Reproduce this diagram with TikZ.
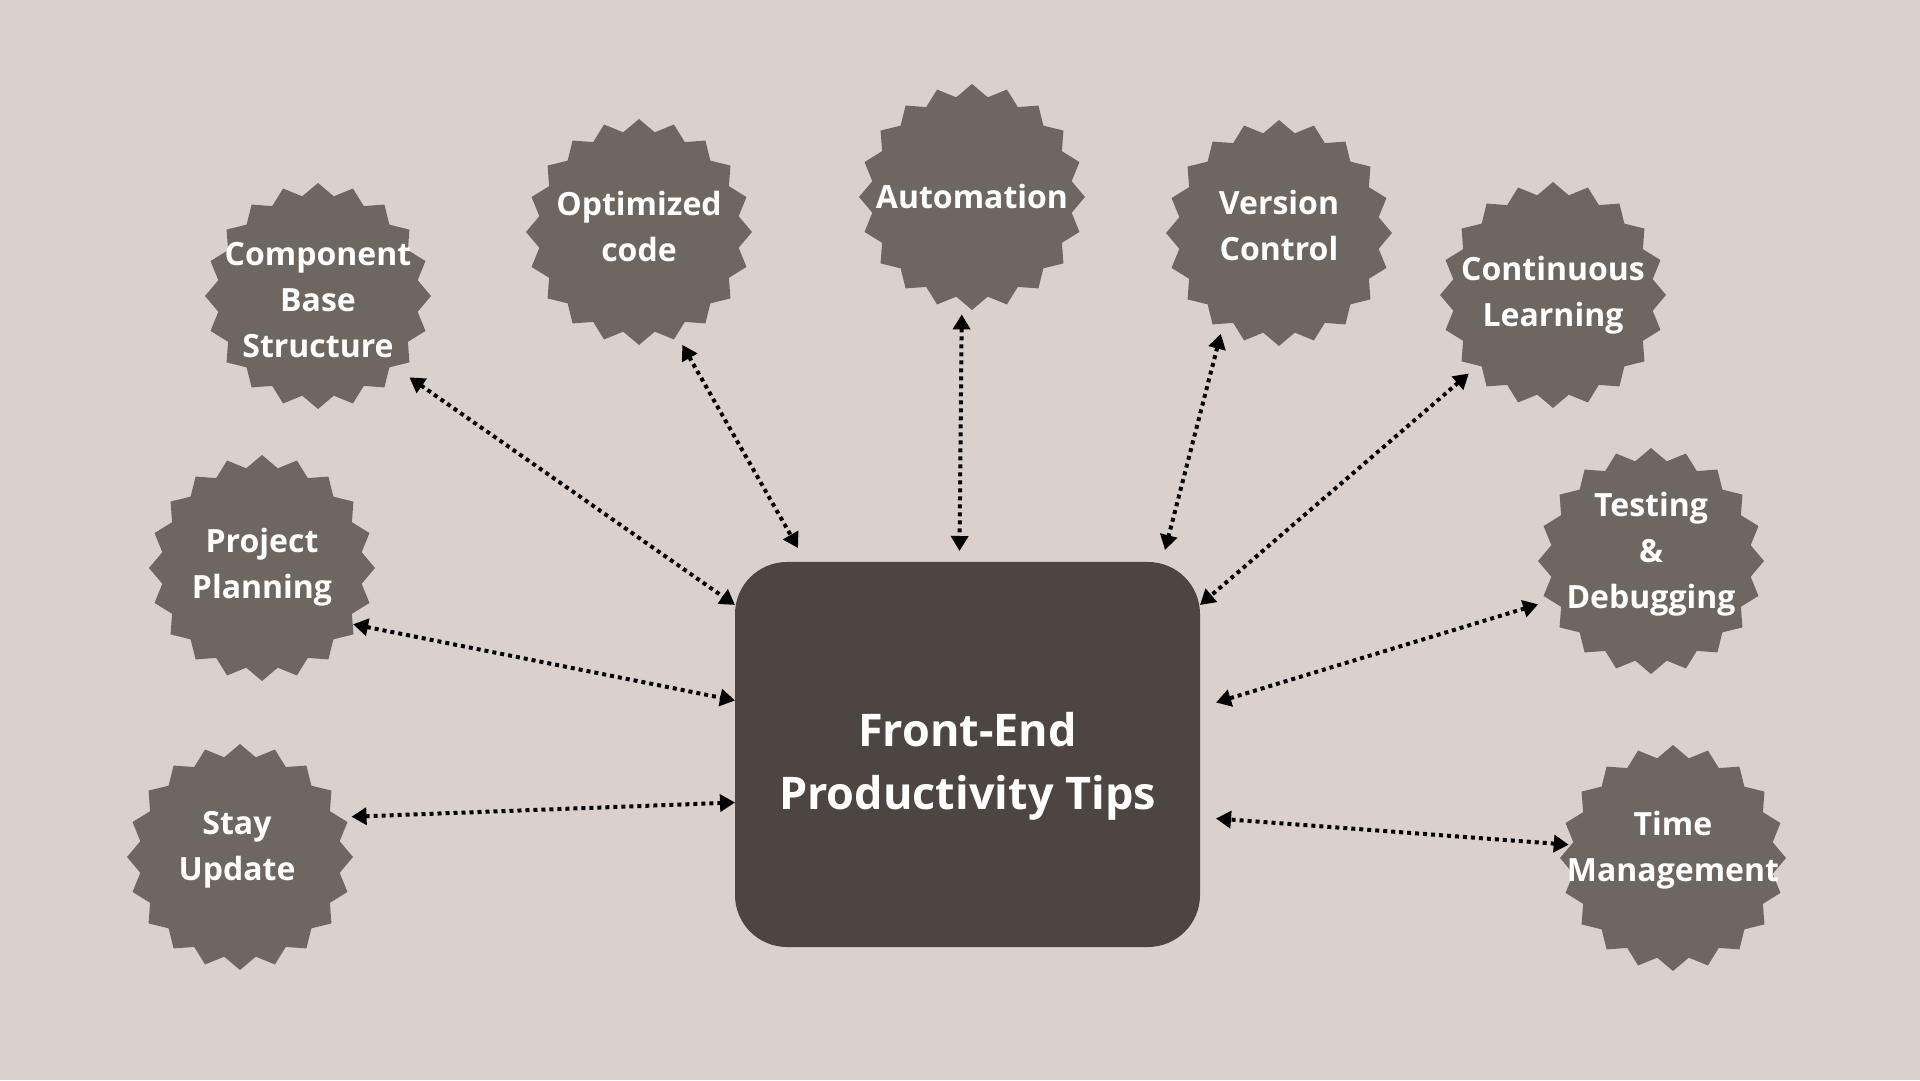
\documentclass[tikz,border=0pt]{standalone}
\usepackage{fontspec}
\setmainfont{Open Sans}
\usepackage{tikz}
\usetikzlibrary{positioning, arrows.meta, shapes.geometric, calc}
\definecolor{bgSand}{RGB}{218, 209, 204}
\definecolor{burstGrey}{RGB}{110, 102, 96}
\definecolor{hubDark}{RGB}{76, 69, 65}

\begin{document}
\begin{tikzpicture}[x=1pt, y=1pt,
        burst/.style={star, star points=20, star point ratio=1.12, minimum size=226pt,
            fill=burstGrey, draw=none, inner sep=0pt, outer sep=10pt},
        lbl/.style={text=white, align=center, font=\bfseries\fontsize{32}{46}\selectfont},
        hub/.style={rectangle, rounded corners=52pt, fill=hubDark, minimum width=465pt,
            minimum height=385pt, outer sep=0pt},
        hubtxt/.style={text=white, align=center, font=\bfseries\fontsize{45}{63}\selectfont},
        link/.style={{Triangle[length=15pt, width=17pt]}-{Triangle[length=15pt, width=17pt]},
            line width=4pt, dash pattern=on 4pt off 4pt, black}
    ]
    \fill[bgSand] (0,0) rectangle (1920,1080);
    \useasboundingbox (0,0) rectangle (1920,1080);

    \node[hub, label={[hubtxt, yshift=-12pt]center:Front-End\\Productivity Tips}] (main) at (967.5,325.5) {};

    \node[burst, label={[lbl, yshift=-4pt]center:Component\\Base\\Structure}] (comp) at (318,784) {};
    \node[burst, label={[lbl, yshift=5pt]center:Optimized\\code}] (optim) at (639,848) {};
    \node[burst, label={[lbl]center:Automation}] (auto) at (972,883) {};
    \node[burst, label={[lbl, yshift=7pt]center:Version\\Control}] (vers) at (1279,847) {};
    \node[burst, label={[lbl]center:Continuous\\Learning}] (cont) at (1553,785) {};
    \node[burst, label={[lbl, yshift=7pt]center:Testing\\\&\\Debugging}] (test) at (1651,519) {};
    \node[burst, label={[lbl, yshift=8pt]center:Time\\Management}] (time) at (1673,222) {};
    \node[burst, label={[lbl, xshift=-3pt, yshift=7pt]center:Stay\\Update}] (stay) at (240,223) {};
    \node[burst, label={[lbl, yshift=1pt]center:Project\\Planning}] (plan) at (262,512) {};

    \draw[link, shorten <=6pt] (comp.-42) -- ([yshift=-43pt]main.north west);
    \draw[link] (optim.-69) -- ([xshift=63pt, yshift=14pt]main.north west);
    \draw[link] (auto.-95) -- ([xshift=-8pt, yshift=11pt]main.north);
    \draw[link] (vers.-120) -- ([xshift=-35pt, yshift=12pt]main.north east);
    \draw[link] (cont.-137) -- ([yshift=-43pt]main.north east);
    \draw[link] (test.-159) -- ([xshift=16pt, yshift=52pt]main.east);
    \draw[link, shorten <=-10pt] (time.173) -- ([xshift=16pt, yshift=-64pt]main.east);
    \draw[link, shorten <=-6pt] (stay.19) -- ([yshift=-48pt]main.west);
    \draw[link, shorten <=-10pt] (plan.-30) -- ([yshift=54pt]main.west);
\end{tikzpicture}
\end{document}
